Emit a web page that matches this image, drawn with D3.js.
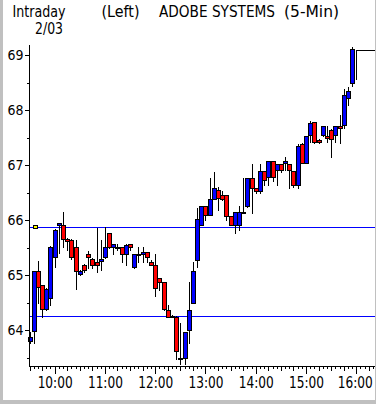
<!DOCTYPE html>
<html>
<head>
<meta charset="utf-8">
<script src="https://cdn.jsdelivr.net/npm/d3@7"></script>
<style>
  body { margin: 0; background: #fff; }
  svg { display: block; }
  text { font-family: "Liberation Sans Narrow", "DejaVu Sans Condensed", sans-serif; fill: #000; }
</style>
</head>
<body>
<svg width="376" height="404"></svg>
<script>
// 5-min bars, index 0 = 9:30 ... 78 = 16:00
const opens  = [63.80,63.99,65.07,64.81,64.38,64.58,65.32,65.90,65.90,65.66,65.64,65.50,65.02,65.18,
                65.38,65.30,65.24,65.26,65.32,65.76,65.51,65.51,65.50,65.39,65.56,65.14,65.38,65.38,65.42,
                65.24,65.18,64.94,64.87,64.36,64.26,64.24,63.50,63.50,64.00,64.50,65.27,65.90,66.25,66.09,
                66.38,66.55,66.45,66.45,66.07,65.90,65.90,66.13,66.26,66.76,66.58,66.52,66.89,66.78,67.08,
                66.90,67.02,67.03,67.02,66.89,66.64,67.39,67.03,67.55,67.78,67.45,67.55,67.52,67.64,67.55,
                67.70,67.73,68.22,68.49,69.10];
const highs  = [63.97,65.07,65.25,64.82,64.76,65.52,65.83,65.95,66.15,65.68,65.66,65.64,65.09,65.20,
                65.44,65.31,65.85,65.64,65.88,65.77,65.57,65.57,65.51,65.56,65.57,65.38,65.50,65.50,65.42,
                65.27,65.38,64.95,64.88,64.45,64.27,64.25,64.12,63.97,64.88,65.24,66.21,66.25,66.25,66.76,
                66.88,66.60,66.52,66.45,66.07,66.14,66.25,66.76,66.76,67.02,66.58,67.02,66.89,67.08,67.08,
                67.02,67.02,67.14,67.02,66.89,67.39,67.40,67.53,67.80,67.78,67.47,67.70,67.70,67.65,67.70,
                67.91,68.39,68.42,69.15,69.10];
const lows   = [63.76,63.77,64.50,64.24,64.36,64.45,65.15,65.40,65.50,65.45,65.30,64.74,65.00,65.05,
                65.13,65.12,65.06,65.09,65.31,65.49,65.39,65.45,65.24,65.18,65.45,65.13,65.24,65.24,65.24,
                65.18,64.62,64.72,64.37,64.23,64.23,63.48,63.38,63.38,63.76,64.50,65.15,65.90,66.00,66.09,
                66.38,66.18,66.36,66.00,65.90,65.77,65.82,66.12,66.23,66.13,66.49,66.50,66.64,66.64,66.70,
                66.64,66.88,66.90,66.58,66.60,66.59,67.03,67.03,67.42,67.40,67.40,67.53,67.42,67.15,67.42,
                67.40,67.67,68.09,68.44,68.56];
const closes = [63.88,65.07,64.78,64.38,64.74,65.50,65.82,65.94,65.65,65.62,65.32,65.08,65.08,65.09,
                65.32,65.19,65.19,65.30,65.50,65.51,65.56,65.50,65.39,65.55,65.51,65.38,65.39,65.42,65.32,
                65.19,64.76,64.88,64.38,64.24,64.24,63.62,63.48,63.97,64.36,65.07,66.01,66.25,66.09,66.38,
                66.58,66.40,66.39,66.08,65.90,66.14,66.14,66.15,66.76,66.59,66.52,66.89,66.73,67.08,66.78,
                67.02,66.90,67.08,66.90,66.64,67.35,67.03,67.53,67.76,67.41,67.41,67.70,67.50,67.47,67.70,
                67.67,68.27,68.34,69.11,69.10];

const refLines = [65.87, 64.25];
const lastPrice = 69.10;
const markerPrice = 65.88;
const priceTicks = d3.range(63.5, 69.01, 0.5);
const hourLabels = ["10:00", "11:00", "12:00", "13:00", "14:00", "15:00", "16:00"];

const bars = opens.map((o, i) => ({ i: i, o: o, h: highs[i], l: lows[i], c: closes[i] }));

const svg = d3.select("svg");
svg.attr("shape-rendering", "crispEdges");

// frame
svg.append("rect").attr("x", 0).attr("y", 0).attr("width", 376).attr("height", 404).attr("fill", "#fff");

const y = d3.scaleLinear().domain([64, 69]).range([330, 55]);
// minutes after 9:30
const x = d3.scaleLinear().domain([0, 390]).range([29.5, 356.3]);
const bx = i => Math.round(x(i * 5));

const plotLeft = 29, plotBottom = 366, plotTop = 45, plotRight = 375;

// reference lines
svg.append("g").selectAll("line").data(refLines).join("line")
  .attr("x1", plotLeft).attr("x2", plotRight)
  .attr("y1", d => Math.round(y(d)) + 0.5).attr("y2", d => Math.round(y(d)) + 0.5)
  .attr("stroke", "#0000ff");

// last price line
svg.append("line")
  .attr("x1", bx(78)).attr("x2", 376)
  .attr("y1", Math.round(y(lastPrice)) + 0.5).attr("y2", Math.round(y(lastPrice)) + 0.5)
  .attr("stroke", "#000");

// candles
const cg = svg.append("g");
cg.selectAll("line.wick").data(bars).join("line").attr("class", "wick")
  .attr("x1", d => bx(d.i) + 0.5).attr("x2", d => bx(d.i) + 0.5)
  .attr("y1", d => Math.round(y(d.h))).attr("y2", d => Math.round(y(d.l)) + 1)
  .attr("stroke", "#000");
cg.selectAll("rect.body").data(bars.filter(d => d.i < 78)).join("rect").attr("class", "body")
  .attr("x", d => bx(d.i) - 1.5)
  .attr("y", d => Math.round(y(Math.max(d.o, d.c))) + 0.5)
  .attr("width", 4)
  .attr("height", d => Math.max(1, Math.round(y(Math.min(d.o, d.c))) - Math.round(y(Math.max(d.o, d.c)))))
  .attr("fill", d => d.c >= d.o ? "#0000ff" : "#ff0000")
  .attr("stroke", "#000");

// marker
svg.append("rect")
  .attr("x", 33.5).attr("y", Math.round(y(markerPrice)) - 1.5)
  .attr("width", 4).attr("height", 3)
  .attr("fill", "#ffff00").attr("stroke", "#000");

// y axis
const yAxis = d3.axisLeft(y).tickValues(priceTicks).tickSize(5).tickPadding(1)
  .tickFormat(d => Number.isInteger(d) ? d : "");
const yg = svg.append("g").attr("transform", `translate(${plotLeft + 0.5},0)`).call(yAxis);
yg.select(".domain").remove();
yg.selectAll(".tick line").attr("x2", d => Number.isInteger(d) ? -5 : -3);
yg.selectAll(".tick text").attr("font-size", 14).attr("font-family", null)
  .attr("textLength", 16).attr("lengthAdjust", "spacingAndGlyphs");
svg.append("line").attr("x1", plotLeft + 0.5).attr("x2", plotLeft + 0.5)
  .attr("y1", plotTop).attr("y2", plotBottom + 1).attr("stroke", "#000");

// x axis
const minuteTicks = d3.range(0, 411, 5);
const xAxis = d3.axisBottom(x).tickValues(minuteTicks).tickSize(2).tickPadding(9)
  .tickFormat(m => (m % 60 === 30 && m > 0) ? hourLabels[(m - 30) / 60] : "");
const xg = svg.append("g").attr("transform", `translate(0,${plotBottom + 0.5})`).call(xAxis);
xg.select(".domain").remove();
xg.selectAll(".tick line").attr("y2", m => m % 60 === 30 ? 7 : (m % 15 === 0 ? 4 : 2));
xg.selectAll(".tick text").attr("font-size", 15).attr("font-family", null)
  .attr("dx", m => m === 390 ? -1.5 : 0)
  .attr("textLength", m => (m % 60 === 30 && m > 0) ? 35 : null).attr("lengthAdjust", "spacingAndGlyphs");
svg.append("line").attr("x1", plotLeft).attr("x2", plotRight)
  .attr("y1", plotBottom + 0.5).attr("y2", plotBottom + 0.5).attr("stroke", "#000");

// grey window border
svg.append("rect").attr("x", 0).attr("y", 0).attr("width", 3).attr("height", 404).attr("fill", "#c0c0c0");
svg.append("rect").attr("x", 0).attr("y", 400).attr("width", 376).attr("height", 4).attr("fill", "#c0c0c0");
svg.append("rect").attr("x", 375).attr("y", 0).attr("width", 1).attr("height", 404).attr("fill", "#c0c0c0");

// titles
const titles = [
  { t: "Intraday", x: 12.5, y: 17, w: 53 },
  { t: "2/03", x: 35, y: 34, w: 28 },
  { t: "(Left)", x: 101.5, y: 17, w: 38 },
  { t: "ADOBE SYSTEMS", x: 159, y: 17, w: 116 },
  { t: "(5-Min)", x: 284, y: 17, w: 55 }
];
svg.append("g").selectAll("text").data(titles).join("text")
  .attr("x", d => d.x).attr("y", d => d.y).attr("font-size", 15)
  .attr("textLength", d => d.w).attr("lengthAdjust", "spacingAndGlyphs")
  .text(d => d.t);
</script>
</body>
</html>
